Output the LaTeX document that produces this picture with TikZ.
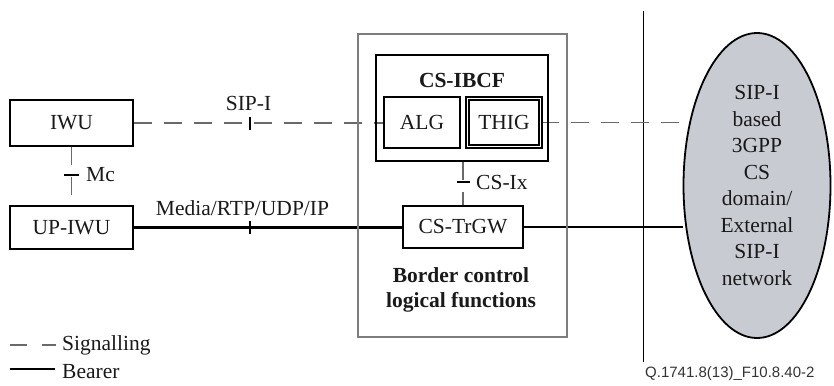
\documentclass[tikz,border=0pt]{standalone}
\usepackage{fontspec}
\setmainfont{Liberation Serif}
\newfontfamily\figfont{Liberation Sans}
\usetikzlibrary{positioning,shapes.geometric,backgrounds}

\definecolor{siggray}{RGB}{105,105,105}
\definecolor{boxgray}{RGB}{125,125,125}
\definecolor{netfill}{RGB}{200,204,210}
\definecolor{inkgray}{RGB}{25,25,25}

\tikzset{
  unit/.style={rectangle,draw,line width=2.4pt,minimum width=123pt,minimum height=46pt,inner sep=0pt},
  func/.style={rectangle,draw,line width=1.8pt,minimum width=76pt,minimum height=51pt,inner sep=0pt},
  sig/.style={draw=siggray,line width=1.1pt,dash pattern=on 18pt off 12pt},
  bearer/.style={line width=2.4pt},
  vbar/.style={rectangle,fill=black,inner sep=0pt,minimum width=2pt,minimum height=13pt},
  hbar/.style={rectangle,fill=black,inner sep=0pt,minimum width=15pt,minimum height=2pt},
}

\begin{document}
\begin{tikzpicture}[x=1pt,y=1pt,font=\fontsize{21.5}{26.5}\selectfont,text=inkgray]
  \useasboundingbox (0,0) rectangle (834,-385);

  % left side units
  \node[unit] (iwu) at (71.5,-123) {IWU};
  \node[unit,minimum height=43pt] (upiwu) at (71.5,-227.5) {UP-IWU};

  % border control logical functions
  \node[rectangle,draw=boxgray,line width=1.2pt,minimum width=209pt,minimum height=303pt] (bcf) at (462.5,-185.5) {};
  \node[rectangle,draw,line width=2.6pt,minimum width=172pt,minimum height=106pt] (ibcf) at (462,-108) {};
  \node[font=\fontsize{21.5}{26.5}\selectfont\bfseries] (ibcflbl) at (462,-80) {CS-IBCF};
  \node[func] (alg) at (422,-122.5) {ALG};
  \node[func,line width=1.7pt,double,double distance=1.1pt,minimum width=73pt,minimum height=48pt] (thig) at (504,-122.5) {THIG};
  \node[rectangle,draw,line width=1.8pt,minimum width=120pt,minimum height=42pt] (trgw) at (463,-227) {CS-TrGW};
  \node[align=center,font=\fontsize{21.5}{25}\selectfont\bfseries] (bcflbl) at (461,-289.5) {Border control\\logical functions};

  % network
  \coordinate (septop) at (643,-11);
  \coordinate (sepbot) at (643,-362);
  \node[ellipse,draw,fill=netfill,line width=1.8pt,minimum width=147pt,minimum height=305pt,inner sep=0pt,align=center] (netw) at (757,-185.5)
    {SIP-I\\based\\3GPP\\CS\\domain/\\External\\SIP-I\\network};

  \begin{pgfonlayer}{background}
    \draw[line width=0.8pt] (septop) -- (sepbot);
    % signalling
    \draw[sig] (iwu.east) -- (iwu.east -| alg.west)
      node[vbar,pos=0.466] (sipibar) {};
    \draw[sig] (thig.east) -- (thig.east -| netw.west);
    \draw[sig] (iwu.south) -- (upiwu.north)
      node[hbar,pos=0.48] (mcbar) {};
    \draw[sig] (trgw.north |- ibcf.south) -- (trgw.north)
      node[hbar,minimum width=13pt,pos=0.47] (ixbar) {};
    % bearer
    \draw[bearer] (upiwu.east) -- (upiwu.east -| trgw.west)
      node[vbar,pos=0.433] (mediabar) {};
    \draw[bearer] (trgw.east) -- (trgw.east -| netw.west);
  \end{pgfonlayer}

  \node (sipilbl) at (248.5,-103) {SIP-I};
  \node[anchor=west,inner sep=0pt] (mclbl) at (86,-175) {Mc};
  \node[anchor=west,inner sep=0pt] (ixlbl) at (476,-182) {CS-Ix};
  \node (medialbl) at (242.5,-208) {Media/RTP/UDP/IP};

  % legend
  \coordinate (siga) at (10,-345);
  \coordinate (sigb) at (56,-345);
  \draw[sig,dash pattern=on 17pt off 15pt] (siga) -- (sigb);
  \node[anchor=west,inner sep=0pt] (siglbl) at (62,-345) {Signalling};
  \coordinate (bra) at (10,-369);
  \coordinate (brb) at (55,-369);
  \draw[bearer] (bra) -- (brb);
  \node[anchor=base west,inner sep=0pt] (brlbl) at (62,-378) {Bearer};

  \node[anchor=west,inner sep=0pt,font=\figfont\fontsize{15}{18}\selectfont,text=black!80] (figid) at (645,-374) {Q.1741.8(13)\_F10.8.40-2};
\end{tikzpicture}
\end{document}
